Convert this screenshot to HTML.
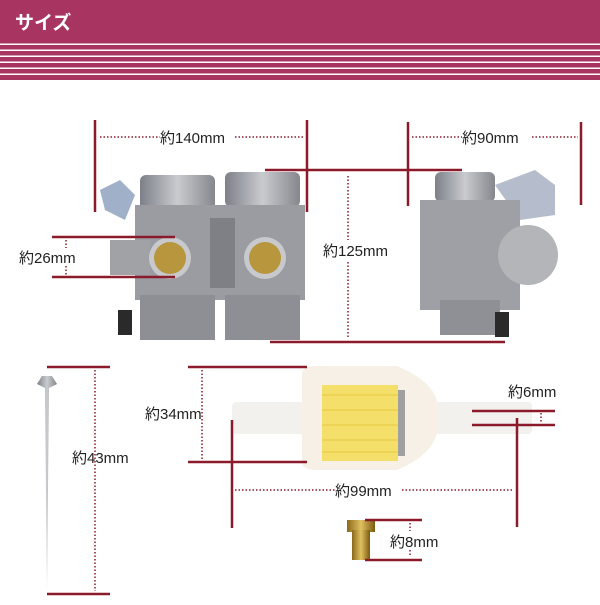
<!DOCTYPE html>
<html><head><meta charset="utf-8"><style>
html,body{margin:0;padding:0;background:#fff;}
svg text{font-family:"Liberation Sans","Noto Sans CJK JP",sans-serif;font-size:15px;fill:#222;}
</style></head><body>
<svg width="600" height="600" viewBox="0 0 600 600" xmlns="http://www.w3.org/2000/svg">
<defs>
<linearGradient id="metal" x1="0" x2="1"><stop offset="0" stop-color="#7d8088"/><stop offset="0.5" stop-color="#c9cbcf"/><stop offset="1" stop-color="#85878d"/></linearGradient>
<linearGradient id="brass" x1="0" x2="1"><stop offset="0" stop-color="#8a6a1a"/><stop offset="0.5" stop-color="#e0c060"/><stop offset="1" stop-color="#7a5a10"/></linearGradient>
</defs>
<rect x="0" y="0" width="600" height="80" fill="#a83462"/>
<text x="15" y="29" style="font-size:19px;font-weight:bold;fill:#fff">サイズ</text>
<g fill="#fff"><rect x="0" y="43.5" width="600" height="1.5"/><rect x="0" y="49.5" width="600" height="1.5"/><rect x="0" y="55.5" width="600" height="1.5"/><rect x="0" y="61.5" width="600" height="1.5"/><rect x="0" y="67.5" width="600" height="1.5"/><rect x="0" y="73.5" width="600" height="1.5"/></g>

<g>
<path d="M100 190 l20 -10 l15 15 l-10 25 l-20 -10z" fill="#9fb0c8"/>
<rect x="140" y="175" width="75" height="35" rx="6" fill="url(#metal)"/>
<rect x="225" y="172" width="75" height="35" rx="6" fill="url(#metal)"/>
<rect x="135" y="205" width="170" height="95" fill="#9a9ca1"/>
<rect x="140" y="295" width="75" height="45" fill="#8d8f94"/>
<rect x="225" y="295" width="75" height="45" fill="#8d8f94"/>
<rect x="110" y="240" width="40" height="35" fill="#a0a2a6"/>
<circle cx="170" cy="258" r="21" fill="#c8c9cc"/><circle cx="170" cy="258" r="16" fill="#b8963e"/>
<circle cx="265" cy="258" r="21" fill="#c8c9cc"/><circle cx="265" cy="258" r="16" fill="#b8963e"/>
<rect x="210" y="218" width="25" height="70" fill="#7e8085"/>
<rect x="118" y="310" width="14" height="25" fill="#2a2a2a"/>
</g>
<g>
<rect x="435" y="172" width="60" height="30" rx="6" fill="url(#metal)"/>
<path d="M495 185 l40 -15 l20 15 l0 30 l-35 5z" fill="#b5bccb"/>
<rect x="420" y="200" width="100" height="110" fill="#9ea0a5"/>
<circle cx="528" cy="255" r="30" fill="#b3b5b9"/>
<rect x="440" y="300" width="60" height="35" fill="#8e9095"/>
<rect x="495" y="312" width="14" height="25" fill="#2a2a2a"/>
</g>
<path d="M42 376 l10 0 l5 8 l-8 4 l-2 202 l-2 -202 l-8 -4z" fill="url(#metal)"/>
<rect x="232" y="402" width="300" height="32" rx="4" fill="#f3f1ee"/>
<path d="M302 374 q0 -8 15 -8 l80 0 q35 15 40 35 l0 32 q-5 22 -40 37 l-80 0 q-15 0 -15 -8z" fill="#f6f0e6"/>
<rect x="322" y="385" width="76" height="76" fill="#f3df6a"/>
<g stroke="#e8c840" stroke-width="1"><line x1="322" y1="395" x2="398" y2="395"/><line x1="322" y1="410" x2="398" y2="410"/><line x1="322" y1="425" x2="398" y2="425"/><line x1="322" y1="440" x2="398" y2="440"/><line x1="322" y1="452" x2="398" y2="452"/></g>
<rect x="398" y="390" width="7" height="66" fill="#a0a0a0"/>
<rect x="347" y="520" width="28" height="12" fill="url(#brass)"/>
<rect x="352" y="530" width="18" height="30" fill="url(#brass)"/>

<g stroke="#8b1a2b" stroke-width="2.5" fill="none">
<line x1="95" y1="120" x2="95" y2="212"/><line x1="307" y1="120" x2="307" y2="212"/>
<line x1="265" y1="170" x2="462" y2="170"/><line x1="270" y1="342" x2="505" y2="342"/>
<line x1="408" y1="122" x2="408" y2="206"/><line x1="581" y1="122" x2="581" y2="205"/>
<line x1="52" y1="237" x2="175" y2="237"/><line x1="52" y1="277" x2="175" y2="277"/>
<line x1="47" y1="367" x2="110" y2="367"/><line x1="47" y1="594" x2="110" y2="594"/>
<line x1="188" y1="367" x2="307" y2="367"/><line x1="188" y1="462" x2="307" y2="462"/>
<line x1="232" y1="420" x2="232" y2="528"/><line x1="517" y1="418" x2="517" y2="527"/>
<line x1="472" y1="411" x2="555" y2="411"/><line x1="472" y1="425" x2="555" y2="425"/>
<line x1="365" y1="520" x2="422" y2="520"/><line x1="365" y1="560" x2="422" y2="560"/>
</g>
<g stroke="#8b1a2b" stroke-width="1.5" stroke-dasharray="1.5 2" fill="none">
<line x1="100" y1="137" x2="160" y2="137"/><line x1="235" y1="137" x2="303" y2="137"/>
<line x1="412" y1="137" x2="462" y2="137"/><line x1="532" y1="137" x2="578" y2="137"/>
<line x1="348" y1="176" x2="348" y2="240"/><line x1="348" y1="262" x2="348" y2="338"/>
<line x1="66" y1="240" x2="66" y2="248"/><line x1="66" y1="266" x2="66" y2="275"/>
<line x1="95" y1="370" x2="95" y2="591"/>
<line x1="202" y1="370" x2="202" y2="459"/>
<line x1="235" y1="490" x2="335" y2="490"/><line x1="402" y1="490" x2="514" y2="490"/>
<line x1="541" y1="413" x2="541" y2="423"/>
<line x1="410" y1="523" x2="410" y2="531"/><line x1="410" y1="550" x2="410" y2="557"/>
</g>
<text x="160" y="143">約140mm</text>
<text x="462" y="143">約90mm</text>
<text x="323" y="256">約125mm</text>
<text x="19" y="263">約26mm</text>
<text x="72" y="463">約43mm</text>
<text x="145" y="419">約34mm</text>
<text x="335" y="496">約99mm</text>
<text x="508" y="397">約6mm</text>
<text x="390" y="547">約8mm</text>
</svg>
</body></html>
